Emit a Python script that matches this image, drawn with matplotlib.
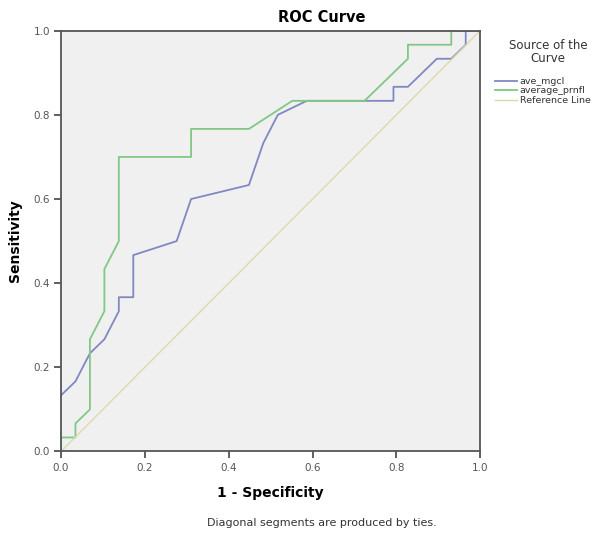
import matplotlib
matplotlib.use("Agg")
import matplotlib.pyplot as plt
import numpy as np

# ROC points: 29 negatives, 30 positives
n_neg, n_pos = 29, 30
mgcl_fp = [0, 1, 2, 3, 4, 4, 5, 5, 8, 9, 13, 14, 15, 17, 23, 23, 24, 26, 27, 28, 28, 29]
mgcl_tp = [4, 5, 7, 8, 10, 11, 11, 14, 15, 18, 19, 22, 24, 25, 25, 26, 26, 28, 28, 29, 30, 30]
prnfl_fp = [0, 0, 1, 1, 2, 2, 3, 3, 4, 4, 9, 9, 13, 16, 21, 24, 24, 27, 27, 29]
prnfl_tp = [0, 1, 1, 2, 3, 8, 10, 13, 15, 21, 21, 23, 23, 25, 25, 28, 29, 29, 30, 30]
ticks = [0.0, 0.2, 0.4, 0.6, 0.8, 1.0]

W, H = 604, 534
fig = plt.figure(figsize=(W / 100, H / 100), dpi=100)
ax = fig.add_axes([0.101, 0.1545, 0.694, 0.788])
ax.set_facecolor("#f0f0f0")

ax.plot(np.array(mgcl_fp) / n_neg, np.array(mgcl_tp) / n_pos, color="#8088c2", lw=1.3, label="ave_mgcl")
ax.plot(np.array(prnfl_fp) / n_neg, np.array(prnfl_tp) / n_pos, color="#80c884", lw=1.3, label="average_prnfl")
ax.plot([0, 1], [0, 1], color="#ddd9ae", lw=1.0, label="Reference Line")

ax.set_xlim(0, 1)
ax.set_ylim(0, 1)
ax.set_xticks(ticks)
ax.set_yticks(ticks)
ax.set_xticklabels([f"{t:.1f}" for t in ticks])
ax.set_yticklabels([f"{t:.1f}" for t in ticks])
ax.tick_params(direction="out", length=5, width=1.2, color="#444444", labelsize=7.5, labelcolor="#555555", pad=3)
for s in ax.spines.values():
    s.set_color("#555555")
    s.set_linewidth(1.3)

ax.set_xlabel("1 - Specificity", fontsize=10, fontweight="bold", labelpad=10)
ax.set_ylabel("Sensitivity", fontsize=10, fontweight="bold", labelpad=8.5)

fig.text(322 / W, 1 - 17 / H, "ROC Curve", ha="center", va="center", fontsize=10.5, fontweight="bold")

# legend title as separate centered text, items below
fig.text(548 / W, 1 - 52 / H, "Source of the\nCurve", ha="center", va="center",
         fontsize=8.5, color="#333333", linespacing=1.05)
leg = fig.legend(loc="upper left", bbox_to_anchor=(495 / W, 1 - 77 / H),
                 frameon=False, fontsize=6.8, handlelength=2.3, handletextpad=0.3,
                 labelspacing=0.05, borderpad=0, borderaxespad=0)
for t in leg.get_texts():
    t.set_color("#333333")

fig.text(322 / W, 1 - 523 / H, "Diagonal segments are produced by ties.", ha="center", va="center",
         fontsize=8, color="#333333")

fig.savefig("out.png", dpi=100)
